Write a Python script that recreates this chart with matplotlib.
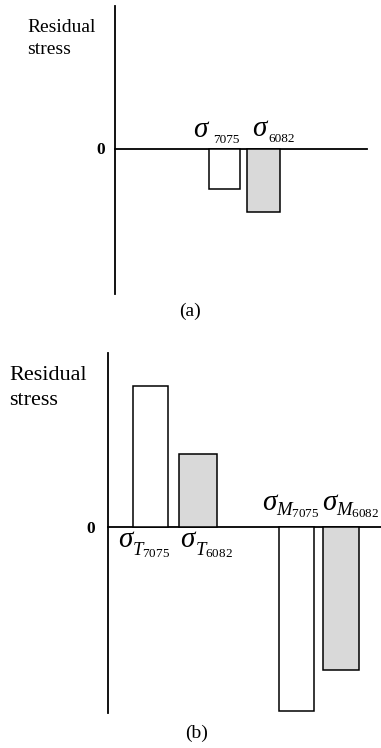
import numpy as np
import matplotlib as mpl
import matplotlib.pyplot as plt

mpl.rcParams.update({
    "font.family": "Liberation Serif",
    "mathtext.fontset": "custom",
    "mathtext.rm": "Liberation Serif",
    "mathtext.it": "Liberation Serif:italic",
    "mathtext.bf": "Liberation Serif:bold",
})

# (a) residual stress after joining, arbitrary units
alloys_a = ["7075", "6082"]
stress_a = [-40, -63]

# (b) thermal (T) and mechanical (M) contributions, arbitrary units
labels_b = ["T_{7075}", "T_{6082}", "M_{7075}", "M_{6082}"]
stress_b = [141, 73, -184, -143]

bar_colors = ["white", "#d9d9d9"]

W, H = 381, 748
fig = plt.figure(figsize=(W / 100, H / 100), dpi=100)


def frac_x(px):
    return px / W


def frac_y(py):
    return 1 - py / H


def setup_axis(ax, left, right, top, bottom, zero):
    # axes in pixel-like data units so the layout is easy to tune
    ax.set_xlim(0, right - left)
    ax.set_ylim(zero - bottom, zero - top)
    for s in ["top", "right"]:
        ax.spines[s].set_visible(False)
    ax.spines["left"].set_linewidth(1.3)
    ax.spines["bottom"].set_linewidth(1.3)
    ax.spines["bottom"].set_position(("data", 0))
    ax.set_xticks([])
    ax.set_yticks([])
    ax.patch.set_visible(False)


# ---- panel (a)
L, R, T, B, Z = 115, 367, 6, 294, 149
ax1 = fig.add_axes([frac_x(L), frac_y(B), frac_x(R - L), (B - T) / H])
setup_axis(ax1, L, R, T, B, Z)
xa = [109.5, 148.5]
wa = [31, 33]
ax1.bar(xa, stress_a, width=wa, color=bar_colors, edgecolor="black", linewidth=1.1, zorder=3)

for xs, ys, xsub, ysub, name in [(85, 12, 98, 6, alloys_a[0]), (144.5, 13, 153, 7, alloys_a[1])]:
    ax1.text(xs, ys, "σ", fontsize=21, style="italic", ha="center", va="baseline")
    ax1.text(xsub, ysub, name, fontsize=9.5, ha="left", va="baseline")

ax1.text(-88, 117, "Residual", fontsize=14, ha="left", va="baseline")
ax1.text(-88, 95, "stress", fontsize=14, ha="left", va="baseline")
ax1.text(-10, -5, "0", fontsize=12.5, fontweight="bold", ha="right", va="baseline")
fig.text(frac_x(190), frac_y(316), "(a)", fontsize=14, ha="center", va="baseline")

# ---- panel (b)
L, R, T, B, Z = 108, 381, 353, 713, 527
ax2 = fig.add_axes([frac_x(L), frac_y(B), frac_x(R - L), (B - T) / H])
setup_axis(ax2, L, R, T, B, Z)
xb = [42.5, 90, 188.5, 233]
wb = [35, 38, 35, 36]
ax2.bar(xb, stress_b, width=wb, color=bar_colors * 2, edgecolor="black", linewidth=1.1, zorder=3)

label_pos = [(17.5, -20, 24, -28), (79.5, -20, 87, -28), (161, 17, 168, 12), (221, 17, 228, 12)]
for (xs, ys, xsub, ysub), lab in zip(label_pos, labels_b):
    ax2.text(xs, ys, "σ", fontsize=21, style="italic", ha="center", va="baseline")
    main, sub = lab.split("_")
    ax2.text(xsub, ysub, r"$\mathit{%s}_{\mathrm{%s}}$" % (main, sub.strip("{}")),
             fontsize=13.5, ha="left", va="baseline")

ax2.text(-99, 147, "Residual", fontsize=16, ha="left", va="baseline")
ax2.text(-99, 122, "stress", fontsize=16, ha="left", va="baseline")
ax2.text(-13, -6, "0", fontsize=12.5, fontweight="bold", ha="right", va="baseline")
fig.text(frac_x(197), frac_y(738), "(b)", fontsize=14, ha="center", va="baseline")

fig.savefig("out.png", dpi=100)
